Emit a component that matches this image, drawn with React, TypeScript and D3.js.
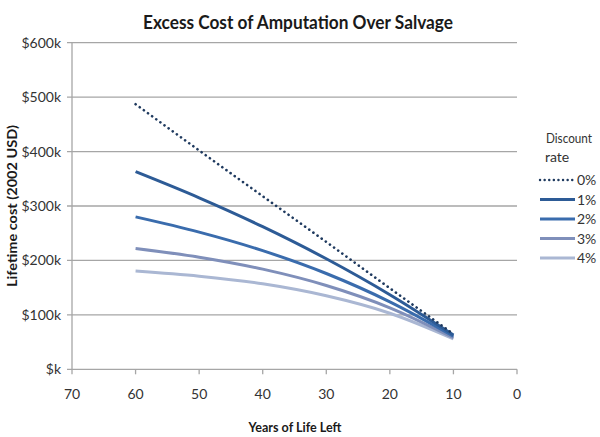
import React from "react";
import * as d3 from "d3";

const years = [60, 50, 40, 30, 20, 10];
const rate0 = [487, 402, 318, 234, 149, 65];
const rate1 = [363, 315, 262, 203, 137, 63];
const rate2 = [280, 252, 218, 176, 124, 61];
const rate3 = [222, 206, 184, 154, 113, 58];
const rate4 = [180.5, 171, 157, 135, 103, 56];

const seriesNames = ["0%", "1%", "2%", "3%", "4%"];
const seriesValues = [rate0, rate1, rate2, rate3, rate4];
const seriesColors = ["#1f3a5f", "#2d5b96", "#3a6cad", "#7f8fba", "#aab7d3"];

const yTicks = [0, 100, 200, 300, 400, 500, 600];
const xTicks = [70, 60, 50, 40, 30, 20, 10, 0];

const FONT = "Lato, 'Open Sans', sans-serif";

export default function App() {
  const W = 600;
  const H = 437;
  const x = d3.scaleLinear().domain([70, 0]).range([72, 517]);
  const y = d3.scaleLinear().domain([0, 600]).range([369.3, 42.7]);

  const line = d3
    .line<[number, number]>()
    .x((d) => x(d[0]))
    .y((d) => y(d[1]))
    .curve(d3.curveMonotoneX);

  const legendY = [180, 199.5, 219, 238.5, 258];

  return (
    <svg
      width={W}
      height={H}
      style={{ position: "absolute", left: 0, top: 0, background: "#fff" }}
      fontFamily={FONT}
    >
      <rect x={0} y={0} width={W} height={H} fill="#fff" />
      <text
        x={298}
        y={29}
        textAnchor="middle"
        fontSize={19}
        fontWeight={700}
        fill="#1a1a1a"
        textLength={310}
        lengthAdjust="spacingAndGlyphs"
      >
        Excess Cost of Amputation Over Salvage
      </text>

      {yTicks.map((t) => (
        <g key={"y" + t}>
          <line x1={67} x2={517} y1={y(t)} y2={y(t)} stroke="#a6a6a6" strokeWidth={1.3} />
          <text x={61} y={y(t) + 5} textAnchor="end" fontSize={14} fill="#333">
            {`$${t === 0 ? "" : t}k`}
          </text>
        </g>
      ))}
      <line x1={72} x2={72} y1={y(600)} y2={y(0)} stroke="#a6a6a6" strokeWidth={1.3} />

      {xTicks.map((t) => (
        <g key={"x" + t}>
          <line x1={x(t)} x2={x(t)} y1={y(0)} y2={y(0) + 5} stroke="#a6a6a6" strokeWidth={1.3} />
          <text x={x(t)} y={399} textAnchor="middle" fontSize={14} fill="#333">
            {t}
          </text>
        </g>
      ))}

      <text
        x={295}
        y={432}
        textAnchor="middle"
        fontSize={14}
        fontWeight={700}
        fill="#1a1a1a"
        textLength={93}
        lengthAdjust="spacingAndGlyphs"
      >
        Years of Life Left
      </text>
      <text
        transform="translate(17,206) rotate(-90)"
        textAnchor="middle"
        fontSize={14}
        fontWeight={700}
        fill="#1a1a1a"
        textLength={162}
        lengthAdjust="spacingAndGlyphs"
      >
        Lifetime cost (2002 USD)
      </text>

      {seriesValues
        .map((vals, i) => ({ vals, i }))
        .reverse()
        .map(({ vals, i }) => (
          <path
            key={"s" + i}
            d={line(years.map((yr, k) => [yr, vals[k]] as [number, number])) || ""}
            fill="none"
            stroke={seriesColors[i]}
            strokeWidth={i === 0 ? 2.6 : 3}
            strokeLinecap={i === 0 ? "round" : "butt"}
            strokeDasharray={i === 0 ? "0.1 5" : undefined}
          />
        ))}

      <text
        x={546}
        y={143}
        fontSize={12.5}
        fill="#333"
        textLength={46}
        lengthAdjust="spacingAndGlyphs"
      >
        Discount
      </text>
      <text x={545} y={162} fontSize={14} fill="#333">
        rate
      </text>
      {seriesNames.map((n, i) => (
        <g key={"l" + i}>
          <line
            x1={540}
            x2={575}
            y1={legendY[i]}
            y2={legendY[i]}
            stroke={seriesColors[i]}
            strokeWidth={i === 0 ? 2.4 : 3}
            strokeLinecap={i === 0 ? "round" : "butt"}
            strokeDasharray={i === 0 ? "0.1 4.5" : undefined}
          />
          <text x={577} y={legendY[i] + 5} fontSize={14} fill="#333">
            {n}
          </text>
        </g>
      ))}
    </svg>
  );
}
